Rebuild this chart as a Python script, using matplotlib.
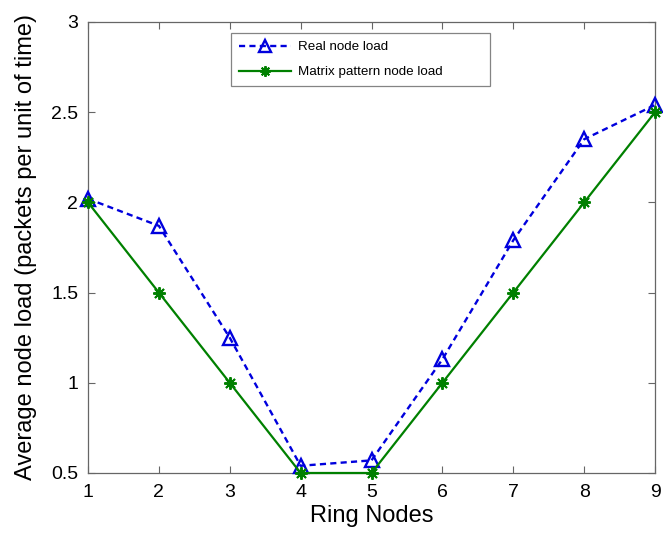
import matplotlib
matplotlib.use("Agg")
import matplotlib.pyplot as plt

plt.rcParams['font.family'] = ['Liberation Sans', 'DejaVu Sans']

nodes = [1, 2, 3, 4, 5, 6, 7, 8, 9]
real_load = [2.02, 1.87, 1.25, 0.54, 0.57, 1.13, 1.79, 2.35, 2.54]
matrix_load = [2.0, 1.5, 1.0, 0.5, 0.5, 1.0, 1.5, 2.0, 2.5]
yticks = [0.5, 1, 1.5, 2, 2.5, 3]
ytick_labels = ['0.5', '1', '1.5', '2', '2.5', '3']

fig = plt.figure(figsize=(6.63, 5.35), dpi=100)
ax = fig.add_axes([0.1327, 0.1159, 0.8553, 0.843])

ax.plot(nodes, real_load, linestyle='--', color='#0000dd', linewidth=1.7,
        marker='^', markersize=10, markerfacecolor='none', markeredgewidth=1.7,
        label='Real node load', dashes=(2.6, 1.8), clip_on=False, zorder=3)
ax.plot(nodes, matrix_load, linestyle='-', color='#008000', linewidth=1.6,
        marker=(8, 2, 0), markersize=9, markeredgewidth=1.4,
        label='Matrix pattern node load', clip_on=False, zorder=3)

ax.set_xlim(1, 9)
ax.set_ylim(0.5, 3)
ax.set_xticks(nodes)
ax.set_xticklabels([str(n) for n in nodes])
ax.set_yticks(yticks)
ax.set_yticklabels(ytick_labels)
ax.tick_params(direction='in', top=True, right=True, labelsize=14, length=5,
               color='#666666', pad=7)
ax.tick_params(axis='x', pad=8)
for s in ax.spines.values():
    s.set_color('#666666')
    s.set_linewidth(0.9)

ax.set_xlabel('Ring Nodes', fontsize=17, labelpad=3)
ax.set_ylabel('Average node load (packets per unit of time)', fontsize=17, labelpad=10)

leg = ax.legend(loc='upper left', bbox_to_anchor=(0.2522, 0.8537, 0.457, 0.122),
                mode='expand', borderaxespad=0, fontsize=9.6,
                frameon=True, fancybox=False, edgecolor='#666666',
                handlelength=3.9, handletextpad=0.5, borderpad=0.6,
                labelspacing=0.95, markerscale=0.85)
leg.get_frame().set_linewidth(0.9)

fig.savefig('out.png', dpi=100)
